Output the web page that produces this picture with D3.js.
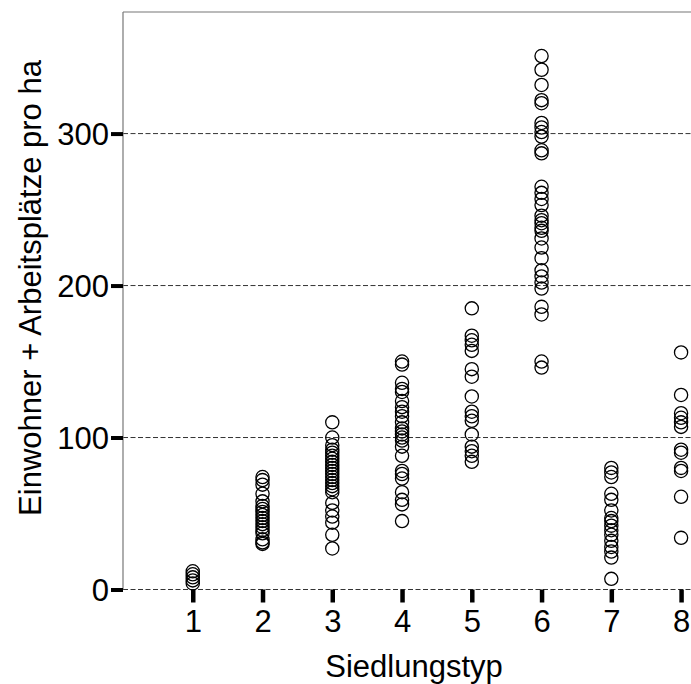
<!DOCTYPE html>
<html>
<head>
<meta charset="utf-8">
<script src="https://cdn.jsdelivr.net/npm/d3@7"></script>
<style>
  body { margin: 0; background: #fff; }
  svg { display: block; }
  text { font-family: "Liberation Sans", Arial, sans-serif; fill: #000; }
</style>
</head>
<body>
<svg id="chart" width="691" height="684"></svg>
<script>
// Settlement types on the x axis:
var types = [1, 2, 3, 4, 5, 6, 7, 8];

// Inhabitants + jobs per hectare, one list per settlement type:
var typ1 = [12, 10, 8, 6, 4];
var typ2 = [74, 72, 69, 63, 58, 55, 53, 51, 49, 47, 45, 43, 41, 39, 37, 33, 31, 30];
var typ3 = [110, 100, 95, 92, 90, 88, 86, 84, 82, 80, 78, 76, 74, 72, 70, 68, 66, 64,
            57, 52, 48, 44, 36, 27];
var typ4 = [150, 148, 136, 132, 130, 124, 120, 117, 114, 110, 106, 104, 102, 100, 98,
            94, 88, 78, 76, 73, 64, 59, 56, 45];
var typ5 = [185, 167, 164, 161, 157, 145, 140, 127, 117, 114, 111, 102, 94, 91, 88, 84];
var typ6 = [351, 342, 332, 322, 320, 307, 304, 301, 298, 289, 287, 265, 261, 257, 253,
            246, 243, 241, 238, 236, 231, 225, 218, 210, 206, 202, 198, 186, 181, 150, 146];
var typ7 = [80, 77, 74, 63, 59, 52, 47, 45, 42, 39, 36, 32, 28, 25, 21, 7];
var typ8 = [156, 128, 116, 113, 110, 107, 92, 90, 80, 78, 61, 34];

var yTicks = [0, 100, 200, 300];

var allSeries = [typ1, typ2, typ3, typ4, typ5, typ6, typ7, typ8];

var svg = d3.select("#chart");

// The plot area runs off the right edge of the picture, as in the original:
var plotLeft = 123, plotTop = 12, plotRight = 702, plotBottom = 589.5;

var x = d3.scaleLinear().domain([0, 8.3]).range([plotLeft, plotRight]);
var y = d3.scaleLinear().domain([0, 380]).range([plotBottom, plotTop]);

// Flatten the lists into points:
var points = [];
allSeries.forEach(function(values, i) {
  values.forEach(function(v) { points.push({ type: types[i], value: v }); });
});

// Dashed reference lines:
svg.selectAll("line.grid")
  .data(yTicks)
  .enter().append("line")
  .attr("class", "grid")
  .attr("x1", plotLeft).attr("x2", plotRight)
  .attr("y1", function(d) { return y(d); })
  .attr("y2", function(d) { return y(d); })
  .attr("stroke", "#333")
  .attr("stroke-width", 1)
  .attr("stroke-dasharray", "5,2.5");

// Frame (left and top):
svg.append("line")
  .attr("x1", plotLeft).attr("x2", plotLeft).attr("y1", plotTop).attr("y2", plotBottom)
  .attr("stroke", "#777").attr("stroke-width", 1.2);
svg.append("line")
  .attr("x1", plotLeft).attr("x2", plotRight).attr("y1", plotTop).attr("y2", plotTop)
  .attr("stroke", "#777").attr("stroke-width", 1.2);

// Axes with thick short ticks:
var yAxis = svg.append("g")
  .attr("transform", "translate(" + plotLeft + ",0)")
  .call(d3.axisLeft(y).tickValues(yTicks).tickSize(12).tickPadding(2));
yAxis.select(".domain").remove();
yAxis.selectAll(".tick line").attr("stroke", "#000").attr("stroke-width", 4);
yAxis.selectAll(".tick text")
  .attr("font-size", 31)
  .attr("font-family", "Liberation Sans, Arial, sans-serif")
  .attr("dy", "0.36em");

var xAxis = svg.append("g")
  .attr("transform", "translate(0," + plotBottom + ")")
  .call(d3.axisBottom(x).tickValues(types).tickFormat(d3.format("d"))
        .tickSize(13).tickPadding(7));
xAxis.select(".domain").remove();
xAxis.selectAll(".tick line").attr("stroke", "#000").attr("stroke-width", 4.5);
xAxis.selectAll(".tick text")
  .attr("font-size", 31)
  .attr("font-family", "Liberation Sans, Arial, sans-serif");

// The points, as open circles:
svg.selectAll("circle.pt")
  .data(points)
  .enter().append("circle")
  .attr("class", "pt")
  .attr("cx", function(d) { return x(d.type); })
  .attr("cy", function(d) { return y(d.value); })
  .attr("r", 6.6)
  .attr("fill", "none")
  .attr("stroke", "#000")
  .attr("stroke-width", 1.3);

// Axis titles:
svg.append("text")
  .attr("x", 414).attr("y", 677)
  .attr("text-anchor", "middle")
  .attr("font-size", 31)
  .text("Siedlungstyp");

svg.append("text")
  .attr("transform", "translate(41,288) rotate(-90)")
  .attr("text-anchor", "middle")
  .attr("font-size", 31)
  .text("Einwohner + Arbeitsplätze pro ha");
</script>
</body>
</html>
